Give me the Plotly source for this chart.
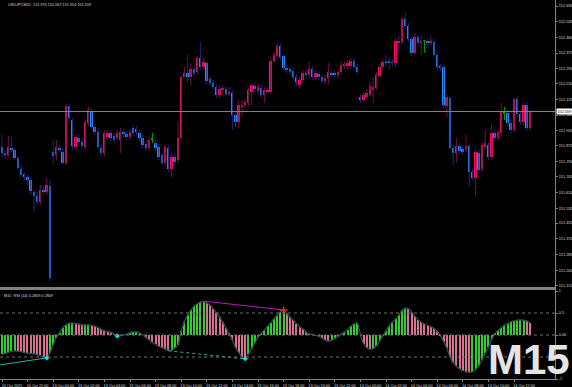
import plotly.graph_objects as go

# ---------------- data (USDJPY M15) ----------------
opens = [151.867, 151.835, 151.824, 151.862, 151.851, 151.808, 151.748, 151.721, 151.705, 151.689,
         151.624, 151.602, 151.570, 151.634, 151.624, 151.656, 151.840, 151.824, 151.862, 151.840,
         151.781, 152.089, 152.013, 151.867, 151.916, 151.894, 151.867, 151.997, 152.056, 151.975,
         151.948, 151.862, 151.835, 151.921, 151.943, 151.927, 151.916, 151.905, 151.948, 151.937,
         151.921, 151.970, 151.964, 151.943, 151.916, 151.883, 151.862, 151.910, 151.889, 151.867,
         151.824, 151.781, 151.862, 151.748, 151.813, 151.797, 151.916, 152.246, 152.267, 152.246,
         152.289, 152.273, 152.349, 152.300, 152.322, 152.235, 152.213, 152.192, 152.148, 152.176,
         152.181, 152.154, 152.159, 152.040, 152.002, 152.084, 152.094, 152.105, 152.165, 152.197,
         152.170, 152.186, 152.148, 152.165, 152.165, 152.332, 152.359, 152.414, 152.359, 152.295,
         152.289, 152.278, 152.246, 152.203, 152.230, 152.267, 152.257, 152.289, 152.246, 152.262,
         152.246, 152.224, 152.240, 152.267, 152.267, 152.257, 152.273, 152.305, 152.305, 152.305,
         152.332, 152.300, 152.138, 152.121, 152.138, 152.148, 152.176, 152.186, 152.251, 152.300,
         152.332, 152.332, 152.327, 152.322, 152.435, 152.435, 152.560, 152.522, 152.451, 152.376,
         152.462, 152.430, 152.441, 152.441, 152.430, 152.435, 152.365, 152.300, 152.300, 152.089,
         152.132, 151.862, 151.835, 151.873, 151.856, 151.856, 151.873, 151.732, 151.700, 151.835,
         151.748, 151.867, 151.878, 151.813, 151.943, 151.916, 151.943, 152.051, 152.051, 151.997,
         151.959, 152.127, 152.046, 152.002, 152.094, 151.970]
highs = [151.932, 151.851, 151.927, 151.921, 151.862, 151.818, 151.770, 151.732, 151.716, 151.705,
         151.634, 151.624, 151.662, 151.651, 151.700, 151.689, 151.905, 151.905, 151.878, 151.862,
         152.100, 152.100, 152.024, 151.932, 151.937, 151.916, 152.013, 152.089, 152.078, 151.991,
         151.970, 151.878, 151.959, 151.959, 151.959, 151.943, 151.959, 151.970, 151.964, 151.954,
         151.964, 151.986, 151.981, 151.959, 151.932, 151.900, 151.921, 151.943, 151.905, 151.883,
         151.840, 151.883, 151.878, 151.829, 151.829, 152.008, 152.257, 152.300, 152.365, 152.322,
         152.305, 152.359, 152.435, 152.349, 152.332, 152.251, 152.230, 152.208, 152.203, 152.203,
         152.197, 152.192, 152.176, 152.056, 152.121, 152.121, 152.127, 152.186, 152.213, 152.213,
         152.208, 152.203, 152.192, 152.192, 152.349, 152.381, 152.430, 152.424, 152.370, 152.311,
         152.305, 152.295, 152.262, 152.246, 152.284, 152.284, 152.327, 152.305, 152.284, 152.278,
         152.262, 152.257, 152.322, 152.284, 152.284, 152.289, 152.327, 152.332, 152.338, 152.349,
         152.349, 152.316, 152.154, 152.165, 152.176, 152.219, 152.240, 152.273, 152.316, 152.343,
         152.365, 152.349, 152.343, 152.457, 152.468, 152.571, 152.598, 152.538, 152.468, 152.484,
         152.479, 152.468, 152.446, 152.457, 152.468, 152.451, 152.381, 152.316, 152.311, 152.154,
         152.143, 151.878, 151.916, 151.889, 151.873, 151.932, 151.889, 151.748, 151.856, 151.851,
         151.894, 151.959, 151.894, 151.986, 151.959, 151.964, 152.105, 152.084, 152.067, 152.013,
         152.132, 152.143, 152.062, 152.105, 152.111, 152.067]
lows = [151.813, 151.808, 151.813, 151.840, 151.797, 151.743, 151.700, 151.689, 151.662, 151.607,
        151.515, 151.553, 151.553, 151.607, 151.607, 151.142, 151.770, 151.797, 151.835, 151.770,
        151.770, 152.002, 151.851, 151.851, 151.878, 151.856, 151.851, 151.981, 151.959, 151.932,
        151.851, 151.818, 151.818, 151.905, 151.900, 151.889, 151.905, 151.835, 151.921, 151.905,
        151.905, 151.927, 151.932, 151.900, 151.862, 151.846, 151.846, 151.889, 151.846, 151.797,
        151.770, 151.770, 151.732, 151.705, 151.770, 151.781, 151.905, 152.240, 152.219, 152.203,
        152.251, 152.257, 152.284, 152.284, 152.208, 152.197, 152.176, 152.132, 152.132, 152.159,
        152.138, 152.143, 151.959, 151.975, 151.970, 152.029, 152.078, 152.089, 152.094, 152.165,
        152.154, 152.132, 152.105, 152.154, 152.154, 152.322, 152.349, 152.338, 152.278, 152.267,
        152.257, 152.230, 152.197, 152.186, 152.213, 152.240, 152.240, 152.230, 152.230, 152.230,
        152.208, 152.208, 152.203, 152.246, 152.240, 152.240, 152.257, 152.289, 152.289, 152.289,
        152.284, 152.257, 152.105, 152.111, 152.127, 152.138, 152.105, 152.176, 152.240, 152.289,
        152.305, 152.284, 152.305, 152.300, 152.376, 152.419, 152.506, 152.435, 152.359, 152.365,
        152.414, 152.365, 152.376, 152.414, 152.419, 152.349, 152.284, 152.278, 152.078, 152.029,
        151.851, 151.770, 151.781, 151.829, 151.824, 151.840, 151.651, 151.684, 151.597, 151.727,
        151.732, 151.851, 151.797, 151.797, 151.900, 151.900, 151.927, 152.013, 151.981, 151.943,
        151.943, 152.029, 151.986, 151.986, 151.954, 151.954]
closes = [151.835, 151.824, 151.867, 151.851, 151.808, 151.754, 151.716, 151.705, 151.689, 151.629,
          151.602, 151.570, 151.634, 151.624, 151.662, 151.158, 151.818, 151.867, 151.851, 151.781,
          152.089, 152.024, 151.873, 151.921, 151.894, 151.873, 152.002, 152.067, 151.975, 151.948,
          151.867, 151.835, 151.943, 151.943, 151.916, 151.905, 151.943, 151.948, 151.937, 151.921,
          151.948, 151.943, 151.948, 151.916, 151.878, 151.862, 151.905, 151.910, 151.862, 151.813,
          151.781, 151.867, 151.748, 151.813, 151.786, 151.916, 152.246, 152.267, 152.246, 152.289,
          152.267, 152.349, 152.300, 152.327, 152.224, 152.213, 152.192, 152.148, 152.181, 152.186,
          152.154, 152.165, 152.040, 152.002, 152.094, 152.094, 152.111, 152.176, 152.203, 152.181,
          152.192, 152.148, 152.176, 152.176, 152.332, 152.365, 152.414, 152.354, 152.295, 152.284,
          152.273, 152.246, 152.219, 152.230, 152.267, 152.257, 152.289, 152.246, 152.267, 152.246,
          152.224, 152.240, 152.273, 152.262, 152.257, 152.273, 152.311, 152.316, 152.322, 152.332,
          152.300, 152.273, 152.121, 152.148, 152.159, 152.197, 152.192, 152.257, 152.300, 152.327,
          152.322, 152.322, 152.322, 152.441, 152.441, 152.560, 152.522, 152.451, 152.376, 152.462,
          152.430, 152.441, 152.441, 152.430, 152.441, 152.365, 152.300, 152.295, 152.094, 152.138,
          151.862, 151.835, 151.873, 151.846, 151.840, 151.873, 151.732, 151.700, 151.840, 151.743,
          151.878, 151.889, 151.813, 151.943, 151.916, 151.948, 152.056, 152.051, 151.997, 151.959,
          152.127, 152.046, 152.002, 152.094, 151.970, 152.059]

# oscillator sub-window values
osc = [-0.44, -0.42, -0.39, -0.37, -0.36, -0.37, -0.38, -0.40, -0.41, -0.42,
       -0.43, -0.45, -0.47, -0.49, -0.51, -0.40, -0.22, -0.06, 0.05, 0.17,
       0.23, 0.27, 0.27, 0.26, 0.25, 0.23, 0.23, 0.23, 0.22, 0.20,
       0.17, 0.13, 0.10, 0.08, 0.06, 0.02, -0.01, -0.01, 0.00, 0.02,
       0.05, 0.07, 0.07, 0.05, 0.00, -0.06, -0.11, -0.17, -0.21, -0.26,
       -0.29, -0.32, -0.35, -0.35, -0.30, -0.22, 0.10, 0.30, 0.46, 0.56,
       0.66, 0.71, 0.75, 0.76, 0.73, 0.68, 0.60, 0.51, 0.40, 0.29,
       0.16, 0.03, -0.12, -0.29, -0.40, -0.50, -0.53, -0.44, -0.31, -0.18,
       -0.05, 0.04, 0.12, 0.20, 0.28, 0.37, 0.45, 0.53, 0.56, 0.49,
       0.41, 0.34, 0.26, 0.19, 0.14, 0.07, 0.03, 0.01, -0.01, -0.03,
       -0.07, -0.12, -0.14, -0.12, -0.08, -0.03, 0.02, 0.07, 0.12, 0.20,
       0.25, 0.27, 0.00, -0.20, -0.29, -0.32, -0.31, -0.25, -0.14, -0.02,
       0.10, 0.21, 0.29, 0.37, 0.45, 0.56, 0.61, 0.60, 0.52, 0.43,
       0.35, 0.29, 0.25, 0.22, 0.19, 0.15, 0.08, -0.01, -0.15, -0.30,
       -0.50, -0.63, -0.71, -0.77, -0.81, -0.84, -0.85, -0.84, -0.78, -0.70,
       -0.56, -0.42, -0.28, -0.10, 0.03, 0.11, 0.17, 0.22, 0.26, 0.30,
       0.32, 0.34, 0.34, 0.34, 0.32, 0.28]

# divergence lines / markers (bar index, value)
bear_div_x = [63, 88]
bear_div_y = [0.77, 0.57]
bull_div1_x = [-0.6, 14]
bull_div1_y = [-0.68, -0.52]
bull_div2_x = [52, 76]
bull_div2_y = [-0.36, -0.54]
bull_pts_x = [14, 36, 76]
bull_pts_y = [-0.52, -0.02, -0.54]

price_ticks = [152.630, 152.545, 152.460, 152.375, 152.290, 152.210, 152.125, 152.040, 151.955,
               151.875, 151.790, 151.705, 151.620, 151.535, 151.455, 151.370, 151.285, 151.200, 151.115]
time_labels = ["10 Oct 2025", "10 Oct 22:00", "13 Oct 00:00", "13 Oct 02:00", "13 Oct 04:00",
               "13 Oct 06:00", "13 Oct 08:00", "13 Oct 10:00", "13 Oct 12:00", "13 Oct 14:00",
               "13 Oct 16:00", "13 Oct 18:00", "13 Oct 20:00", "13 Oct 22:00", "14 Oct 00:00",
               "14 Oct 02:00", "14 Oct 04:00", "14 Oct 06:00", "14 Oct 08:00", "14 Oct 10:00",
               "14 Oct 12:00"]
bars_per_label = 8
osc_levels = [0.5, 0.0, -0.5]
osc_ticks = [1, 0.5, 0, -0.5, -1]
osc_ticktext = ["1", "0.5", "0.00", "-0.5", "-1"]
symbol_title = "USDJPY,M15  151.970 152.067 151.954 152.059"
osc_title = "M15  RSI (14) 0.2809 0.2809"

# ---------------- styling ----------------
BULL = "#f5105a"
BEAR = "#1e90ff"
DOJI = "#00a000"
BULL_WICK = "#6a1050"
BEAR_WICK = "#22227e"
HIST_UP = "#32cd32"
HIST_DN = "#db7093"
AX = "#808080"
TXT = "#d8d8d8"
FONT = "Liberation Sans"
FS = 3.8

n = len(closes)
xs = list(range(n))

fig = go.Figure()

# wicks
groups = {BULL_WICK: ([], []), BEAR_WICK: ([], []), DOJI: ([], [])}
for i in range(n):
    if closes[i] > opens[i]:
        key = BULL_WICK
    elif closes[i] < opens[i]:
        key = BEAR_WICK
    else:
        key = DOJI
    gx, gy = groups[key]
    gx += [i, i, None]
    gy += [lows[i], highs[i], None]
for col, (gx, gy) in groups.items():
    fig.add_trace(go.Scatter(x=gx, y=gy, mode="lines", line=dict(color=col, width=1),
                             hoverinfo="skip", xaxis="x", yaxis="y"))

# bodies
base = [min(o, c) for o, c in zip(opens, closes)]
height = [max(abs(c - o), 0.004) for o, c in zip(opens, closes)]
body_col = [BULL if c > o else (BEAR if c < o else DOJI) for o, c in zip(opens, closes)]
fig.add_trace(go.Bar(x=xs, y=height, base=base, width=0.62, marker=dict(color=body_col, line=dict(width=0)),
                     xaxis="x", yaxis="y"))

# bid line
last = closes[-1]
fig.add_shape(type="line", xref="x domain", x0=0, x1=1, yref="y", y0=last, y1=last,
              line=dict(color="#7a8690", width=1))
fig.add_annotation(xref="paper", x=556 / 572, y=last, yref="y", xanchor="left", yanchor="middle",
                   text=f"{last:.3f}", showarrow=False, bgcolor="white", borderpad=0.5,
                   font=dict(family=FONT, size=FS, color="black"))

# oscillator histogram
hist_col = [HIST_UP] + [HIST_UP if osc[i] >= osc[i - 1] else HIST_DN for i in range(1, n)]
fig.add_trace(go.Bar(x=xs, y=osc, width=0.38, marker=dict(color=hist_col, line=dict(width=0)),
                     xaxis="x2", yaxis="y2"))
fig.add_trace(go.Scatter(x=xs, y=osc, mode="lines", line=dict(color="#2f4f4f", width=1.3, shape="spline"),
                         xaxis="x2", yaxis="y2"))
for lv in osc_levels:
    fig.add_shape(type="line", xref="x2 domain", x0=0, x1=1, yref="y2", y0=lv, y1=lv,
                  line=dict(color="#6e6e6e", width=1, dash="dot"))

# divergences
fig.add_trace(go.Scatter(x=bear_div_x, y=bear_div_y, mode="lines", line=dict(color="#b41cb4", width=1),
                         xaxis="x2", yaxis="y2"))
fig.add_trace(go.Scatter(x=[bear_div_x[-1]], y=[bear_div_y[-1]], mode="markers",
                         marker=dict(symbol="cross-thin", size=5, line=dict(color="#ff2020", width=1.5)),
                         xaxis="x2", yaxis="y2"))
fig.add_trace(go.Scatter(x=bull_div1_x, y=bull_div1_y, mode="lines", line=dict(color="#20b2aa", width=1),
                         xaxis="x2", yaxis="y2"))
fig.add_trace(go.Scatter(x=bull_div2_x, y=bull_div2_y, mode="lines",
                         line=dict(color="#20b2aa", width=1, dash="dot"), xaxis="x2", yaxis="y2"))
fig.add_trace(go.Scatter(x=bull_pts_x, y=bull_pts_y, mode="markers",
                         marker=dict(symbol="diamond", size=4, color="#00e5ee"), xaxis="x2", yaxis="y2"))

# texts
fig.add_annotation(xref="paper", yref="paper", x=6 / 572, y=1 - 1 / 387, xanchor="left", yanchor="top",
                   text=symbol_title, showarrow=False, font=dict(family=FONT, size=FS, color=TXT))
fig.add_annotation(xref="paper", yref="paper", x=2 / 572, y=1 - 292 / 387, xanchor="left", yanchor="top",
                   text=osc_title, showarrow=False, font=dict(family=FONT, size=FS, color=TXT))
fig.add_annotation(xref="paper", yref="paper", x=1.0, y=2 / 387, xanchor="right", yanchor="bottom",
                   text="<b>M15</b>", showarrow=False,
                   font=dict(family="Liberation Sans", size=42, color="#e4e4e4"))

xr = [-0.625, 172.8]
xdom = [0, 555 / 572]
tickpos = list(range(0, n, bars_per_label))[:len(time_labels)]
tf = dict(family=FONT, size=FS, color=TXT)

fig.update_layout(
    width=572, height=387, margin=dict(l=0, r=0, t=0, b=0),
    paper_bgcolor="black", plot_bgcolor="black", showlegend=False,
    barmode="overlay", bargap=0,
    xaxis=dict(domain=xdom, range=xr, anchor="y", showticklabels=False, showgrid=False, zeroline=False,
               showline=True, linecolor=AX, linewidth=2, ticks="", automargin=False),
    yaxis=dict(domain=[1 - 287 / 387, 1], range=[151.1095, 152.6625], side="right", anchor="x",
               tickvals=price_ticks, ticktext=[f"{v:.3f}" for v in price_ticks],
               tickfont=tf, ticks="outside", ticklen=2, tickcolor=AX, automargin=False,
               showline=True, linecolor=AX, linewidth=1, mirror=True, showgrid=False, zeroline=False),
    xaxis2=dict(domain=xdom, range=xr, anchor="y2", tickvals=tickpos, ticktext=time_labels,
                tickfont=tf, ticks="outside", ticklen=2, tickcolor=AX, tickangle=0, automargin=False,
                ticklabelshift=10, showline=True, linecolor=AX, linewidth=1, mirror=True,
                showgrid=False, zeroline=False),
    yaxis2=dict(domain=[1 - 379 / 387, 1 - 290 / 387], range=[-1.0, 1.0227], side="right", anchor="x2",
                tickvals=osc_ticks, ticktext=osc_ticktext, tickfont=tf, automargin=False,
                ticks="outside", ticklen=2, tickcolor=AX, showline=True, linecolor=AX, linewidth=1,
                mirror=True, showgrid=False, zeroline=False),
)

fig.write_html("out.html", config={"displayModeBar": False},
               post_script="document.body.style.margin='0';document.body.style.background='black';")
